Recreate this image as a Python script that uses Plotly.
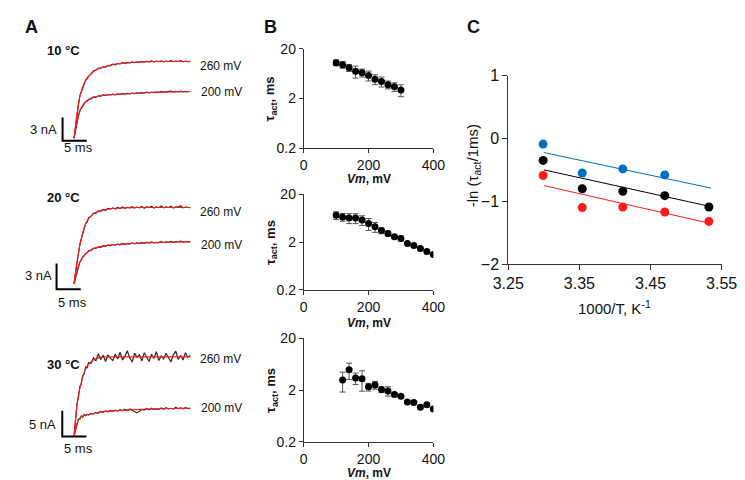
import plotly.graph_objects as go

W, H = 745, 480

# ---- panel A: current traces (time in ms, current in nA) ----
t_ms = [0, 0.3, 0.6, 0.9, 1.2, 1.5, 1.8, 2.1, 2.4, 2.7, 3.0,
        3.5, 4, 4.5, 5, 5.5, 6, 6.5, 7, 7.5, 8,
        8.5, 9, 9.5, 10, 10.5, 11, 11.5, 12, 12.5, 13,
        13.5, 14, 14.5, 15, 15.5, 16, 16.5, 17, 17.5, 18,
        18.5, 19, 19.5, 20, 20.5, 21, 21.5, 22, 22.5, 23,
        23.5, 24]

i_10c_260 = [0, 1.6, 3.3, 4.3, 5.5, 6.0, 6.7, 7.0, 7.55, 7.7, 8.05,
             8.3, 8.7, 8.8, 9.05, 9.05, 9.25, 9.22, 9.42, 9.38, 9.6,
             9.5, 9.68, 9.62, 9.78, 9.7, 9.82, 9.76, 9.88, 9.8, 9.9,
             9.85, 9.95, 9.86, 9.97, 9.9, 10.02, 9.88, 9.98, 9.93, 10.02,
             9.9, 9.99, 9.94, 10.05, 9.92, 10.0, 9.96, 10.06, 9.9, 9.98,
             9.93, 9.95]
i_10c_200 = [0, 1.0, 2.2, 2.85, 3.6, 3.9, 4.3, 4.45, 4.75, 4.8, 5.05,
             5.1, 5.35, 5.3, 5.5, 5.45, 5.6, 5.52, 5.66, 5.6, 5.7,
             5.62, 5.74, 5.68, 5.78, 5.72, 5.8, 5.75, 5.85, 5.78, 5.88,
             5.82, 5.9, 5.86, 5.96, 5.88, 5.98, 5.92, 6.02, 5.95, 6.04,
             5.97, 6.02, 6.0, 6.09, 5.98, 6.06, 6.01, 6.1, 6.0, 6.07,
             6.02, 6.05]
i_20c_260 = [0, 1.3, 2.7, 3.5, 4.6, 5.2, 6.05, 6.4, 7.05, 7.2, 7.7,
             7.85, 8.25, 8.2, 8.5, 8.45, 8.68, 8.55, 8.78, 8.7, 8.85,
             8.72, 8.9, 8.78, 8.95, 8.8, 8.92, 8.85, 9.0, 8.82, 8.95,
             8.86, 9.02, 8.8, 8.98, 8.88, 9.05, 8.83, 8.96, 8.9, 9.08,
             8.85, 8.97, 8.9, 9.04, 8.82, 8.98, 8.95, 9.1, 8.86, 8.95,
             8.9, 8.88]
i_20c_200 = [0, 0.7, 1.5, 2.0, 2.55, 2.8, 3.15, 3.25, 3.55, 3.6, 3.85,
             3.9, 4.15, 4.12, 4.3, 4.25, 4.42, 4.38, 4.5, 4.45, 4.58,
             4.5, 4.62, 4.55, 4.68, 4.6, 4.7, 4.63, 4.76, 4.66, 4.78,
             4.7, 4.82, 4.72, 4.85, 4.76, 4.9, 4.78, 4.84, 4.8, 4.92,
             4.82, 4.9, 4.85, 4.96, 4.83, 4.92, 4.88, 4.98, 4.85, 4.93,
             4.88, 4.9]
i_30c_260 = [0, 3.0, 6.3, 7.6, 9.8, 10.2, 11.9, 12.2, 13.6, 13.3, 14.4,
             14.2, 15.3, 14.7, 16.1, 15.0, 15.8, 14.6, 15.9, 15.2, 14.8,
             16.0, 15.1, 16.4, 14.9, 15.6, 16.7, 15.3, 14.5, 16.2, 15.4,
             15.9, 14.7, 16.3, 15.5, 14.6, 16.0, 15.2, 16.5, 14.8, 15.7,
             15.1, 16.2, 15.4, 14.5, 15.9, 16.6, 15.0, 15.8, 14.9, 16.3,
             15.4, 15.8]
i_30c_200 = [0, 1.5, 2.3, 3.4, 3.4, 4.0, 3.8, 4.25, 4.05, 4.35, 4.2,
             4.5, 4.35, 4.7, 4.5, 4.9, 4.7, 5.0, 4.8, 5.1, 4.9,
             5.15, 4.95, 5.25, 5.0, 5.3, 5.05, 5.35, 5.1, 4.75, 4.6,
             4.9, 5.3, 5.15, 5.45, 5.2, 5.5, 5.25, 5.4, 5.3, 5.55,
             5.35, 5.6, 5.4, 5.5, 5.35, 5.65, 5.45, 5.58, 5.4, 5.62,
             5.45, 5.5]

t_fit = [0, 0.3, 0.6, 0.9, 1.2, 1.5, 2, 2.5, 3, 4, 5, 6, 8, 10, 12, 14, 16, 18, 20, 22, 24]
fit_10c_260 = [0, 1.7, 3.2, 4.4, 5.4, 6.1, 7.0, 7.6, 8.0, 8.65, 9.0, 9.2, 9.55, 9.72, 9.82, 9.88, 9.92, 9.94, 9.95, 9.95, 9.95]
fit_10c_200 = [0, 1.1, 2.1, 2.9, 3.55, 3.95, 4.45, 4.75, 5.0, 5.3, 5.45, 5.55, 5.65, 5.73, 5.8, 5.86, 5.92, 5.96, 6.0, 6.03, 6.05]
fit_20c_260 = [0, 1.4, 2.6, 3.6, 4.5, 5.3, 6.4, 7.1, 7.6, 8.15, 8.45, 8.6, 8.78, 8.85, 8.88, 8.9, 8.9, 8.9, 8.9, 8.9, 8.9]
fit_20c_200 = [0, 0.75, 1.45, 2.05, 2.5, 2.85, 3.25, 3.55, 3.8, 4.1, 4.28, 4.4, 4.55, 4.63, 4.7, 4.76, 4.8, 4.84, 4.86, 4.88, 4.9]
fit_30c_260 = [0, 3.2, 6.0, 8.0, 9.4, 10.6, 12.3, 13.4, 14.1, 14.9, 15.3, 15.45, 15.5, 15.5, 15.5, 15.5, 15.5, 15.5, 15.5, 15.5, 15.5]
fit_30c_200 = [0, 1.4, 2.5, 3.2, 3.6, 3.85, 4.05, 4.2, 4.3, 4.5, 4.7, 4.85, 5.0, 5.1, 5.2, 5.28, 5.35, 5.4, 5.45, 5.48, 5.5]

temps = ["10 °C", "20 °C", "30 °C"]
scale_ms = 5
scale_nA = [3, 3, 5]

# ---- panel B: tau_act vs Vm ----
vm1 = [100, 120, 140, 160, 180, 200, 220, 240, 260, 280, 300]
tau1 = [10.5, 9.6, 8.3, 7.05, 6.6, 5.8, 4.9, 4.4, 3.8, 3.45, 2.97]
err1 = [1.4, 1.5, 1.3, 1.9, 1.2, 1.3, 1.1, 1.0, 0.68, 0.69, 0.8]
vm2 = [100, 120, 140, 160, 180, 200, 220, 240, 260, 280, 300, 320, 340, 360, 380, 400]
tau2 = [7.3, 6.75, 6.4, 6.4, 5.8, 4.9, 4.2, 3.5, 3.05, 2.6, 2.4, 1.88, 1.7, 1.47, 1.28, 1.11]
err2 = [1.36, 1.26, 1.5, 1.5, 1.35, 1.37, 0.98, 0.49, 0.36, 0.18, 0.28, 0.08, 0.07, 0.06, 0.05, 0.05]
vm3 = [120, 140, 160, 180, 200, 220, 240, 260, 280, 300, 320, 340, 360, 380, 400]
tau3 = [3.13, 4.9, 3.4, 3.3, 2.3, 2.5, 2.04, 1.92, 1.64, 1.51, 1.17, 1.15, 0.93, 1.04, 0.865]
err3 = [1.3, 1.7, 0.85, 1.4, 0.39, 0.43, 0.26, 0.39, 0.1, 0.08, 0.06, 0.06, 0.05, 0.05, 0.04]

# ---- panel C: Arrhenius ----
inv_t = [3.299, 3.354, 3.411, 3.470, 3.532]
lnk_blue = [-0.09, -0.55, -0.485, -0.58]
lnk_black = [-0.35, -0.80, -0.84, -0.91, -1.09]
lnk_red = [-0.59, -1.10, -1.09, -1.17, -1.32]
fit_x = [3.30, 3.535]
fit_blue = [-0.225, -0.79]
fit_black = [-0.50, -1.085]
fit_red = [-0.75, -1.355]

FONT = "Arial, Liberation Sans, sans-serif"
BLUE = "#0070C0"
RED = "#FF1A1A"


def fx(px):
    return px / W


def fy(py):
    return 1 - py / H


fig = go.Figure()
layout = {}

# panel A layout: pixel origin of trace start, px per ms, px per nA, scale bar corner, box
a_geo = [
    dict(o=(52.3, 126.7), sx=5.06, sy=8.0, bar=(40.3, 129.3), box=(25, 145)),
    dict(o=(52.3, 277.7), sx=5.06, sy=8.9, bar=(34.0, 283.3), box=(175, 300)),
    dict(o=(52.3, 436.0), sx=5.06, sy=5.33, bar=(40.0, 436.0), box=(325, 460)),
]
a_traces = [(i_10c_260, i_10c_200, fit_10c_260, fit_10c_200),
            (i_20c_260, i_20c_200, fit_20c_260, fit_20c_200),
            (i_30c_260, i_30c_200, fit_30c_260, fit_30c_200)]

for k, g in enumerate(a_geo):
    n = k + 1
    xa = "x" if n == 1 else "x%d" % n
    ya = "y" if n == 1 else "y%d" % n
    ox, oy = g["o"]
    top, bot = g["box"]
    layout["xaxis" if n == 1 else "xaxis%d" % n] = dict(
        domain=[fx(0), fx(200)], range=[(0 - ox) / g["sx"], (200 - ox) / g["sx"]],
        visible=False, anchor=ya)
    layout["yaxis" if n == 1 else "yaxis%d" % n] = dict(
        domain=[fy(bot), fy(top)], range=[(oy - bot) / g["sy"], (oy - top) / g["sy"]],
        visible=False, anchor=xa)
    b260, b200, f260, f200 = a_traces[k]
    for yy in (b260, b200):
        fig.add_trace(go.Scatter(x=t_ms, y=yy, mode="lines", xaxis=xa, yaxis=ya,
                                 line=dict(color="#2a2a2a", width=1.2), showlegend=False))
    for yy in (f260, f200):
        fig.add_trace(go.Scatter(x=t_fit, y=yy, mode="lines", xaxis=xa, yaxis=ya,
                                 line=dict(color=RED, width=1.1, shape="spline"), showlegend=False))
    bx = (g["bar"][0] - ox) / g["sx"]
    by = (oy - g["bar"][1]) / g["sy"]
    fig.add_trace(go.Scatter(x=[bx, bx, bx + scale_ms], y=[by + scale_nA[k], by, by],
                             mode="lines", xaxis=xa, yaxis=ya,
                             line=dict(color="black", width=2), showlegend=False))

a_text = [
    # (temp y, 260 y, 200 y, nA label x-right, nA label y, ms label x, ms label y)
    (36, 51.7, 78.3, 37, 118, 57, 136),
    (188.3, 203.3, 237.3, 31, 269, 51, 297),
    (361.7, 356, 406, 36, 423, 57, 448.5),
]
ann = []
for k, (ty, y260, y200, nx, ny, mx, my) in enumerate(a_text):
    ann.append(dict(x=fx(22), y=fy(ty), text="<b>%s</b>" % temps[k], xanchor="left",
                    font=dict(size=13)))
    ann.append(dict(x=fx(182), y=fy(y260), text="260 mV", xanchor="left", font=dict(size=12)))
    ann.append(dict(x=fx(183), y=fy(y200), text="200 mV", xanchor="left", font=dict(size=12)))
    ann.append(dict(x=fx(nx), y=fy(ny), text="%d nA" % scale_nA[k], xanchor="right",
                    font=dict(size=13)))
    ann.append(dict(x=fx(mx), y=fy(my), text="%d ms" % scale_ms, xanchor="center",
                    font=dict(size=13)))

# panel B
b_boxes = [(34, 137, 168.5), (185, 284, 318.5), (334, 441.5, 474)]
b_data = [(vm1, tau1, err1), (vm2, tau2, err2), (vm3, tau3, err3)]
for k, (top, bot, ttl) in enumerate(b_boxes):
    n = k + 4
    xa, ya = "x%d" % n, "y%d" % n
    layout["xaxis%d" % n] = dict(
        domain=[fx(292.3), fx(427.7)], range=[0, 400], tickvals=[0, 200, 400],
        showline=True, linecolor="#333", linewidth=1, ticks="outside", ticklen=4,
        tickcolor="#333", showgrid=False, zeroline=False, anchor=ya,
        tickfont=dict(size=14, color="#111"))
    layout["yaxis%d" % n] = dict(
        domain=[fy(bot), fy(top)], type="log", range=[-0.69897, 1.30103],
        tickvals=[0.2, 2, 20], ticktext=["0.2", "2", "20"],
        showline=True, linecolor="#333", linewidth=1, ticks="outside", ticklen=4,
        tickcolor="#333", showgrid=False, zeroline=False, anchor=xa,
        tickfont=dict(size=14, color="#111"))
    vx, vt, ve = b_data[k]
    fig.add_trace(go.Scatter(x=vx, y=vt, mode="markers", xaxis=xa, yaxis=ya,
                             marker=dict(color="black", size=7),
                             error_y=dict(type="data", array=ve, color="#555",
                                          thickness=1, width=3),
                             showlegend=False))
    ann.append(dict(x=fx(360), y=fy(ttl), text="<b><i>Vm</i>, mV</b>", font=dict(size=12)))
    ann.append(dict(x=fx(258), y=fy((top + bot) / 2), text="<b>τ<sub>act</sub>, ms</b>",
                    textangle=-90, font=dict(size=13)))

# panel C
layout["xaxis7"] = dict(
    domain=[fx(506), fx(729)], range=[3.25, 3.55], tickvals=[3.25, 3.35, 3.45, 3.55],
    ticktext=["3.25", "3.35", "3.45", "3.55"],
    showline=True, linecolor="#333", linewidth=1, ticks="outside", ticklen=5,
    tickcolor="#333", showgrid=False, zeroline=False, anchor="y7",
    tickfont=dict(size=16, color="#111"))
layout["yaxis7"] = dict(
    domain=[fy(257.3), fy(61.7)], range=[-2, 1], tickvals=[-2, -1, 0, 1],
    showline=True, linecolor="#333", linewidth=1, ticks="outside", ticklen=5,
    tickcolor="#333", showgrid=False, zeroline=False, anchor="x7",
    tickfont=dict(size=16, color="#111"))
for fy_, col in ((fit_blue, BLUE), (fit_black, "black"), (fit_red, RED)):
    fig.add_trace(go.Scatter(x=fit_x, y=fy_, mode="lines", xaxis="x7", yaxis="y7",
                             line=dict(color=col, width=1), showlegend=False))
for xs, ys, col in ((inv_t[:4], lnk_blue, BLUE), (inv_t, lnk_black, "black"),
                    (inv_t, lnk_red, RED)):
    fig.add_trace(go.Scatter(x=xs, y=ys, mode="markers", xaxis="x7", yaxis="y7",
                             marker=dict(color=col, size=9), showlegend=False))
ann.append(dict(x=fx(617), y=fy(302), text="1000/T, K<sup>-1</sup>", font=dict(size=15)))
ann.append(dict(x=fx(470), y=fy(155), text="-ln (τ<sub>act</sub>/1ms)", textangle=-90,
                font=dict(size=15)))

# panel letters
for lab, px in (("A", 8), ("B", 258), ("C", 470)):
    ann.append(dict(x=fx(px), y=fy(11), text="<b>%s</b>" % lab, font=dict(size=18)))

for a in ann:
    a.update(xref="paper", yref="paper", showarrow=False)
    a.setdefault("xanchor", "center")
    a["yanchor"] = "middle"

fig.update_layout(**layout)
fig.update_layout(width=W, height=H, margin=dict(l=0, r=0, t=0, b=0),
                  paper_bgcolor="white", plot_bgcolor="white",
                  font=dict(family=FONT, color="#111"), annotations=ann,
                  showlegend=False)

fig.write_html("out.html")
